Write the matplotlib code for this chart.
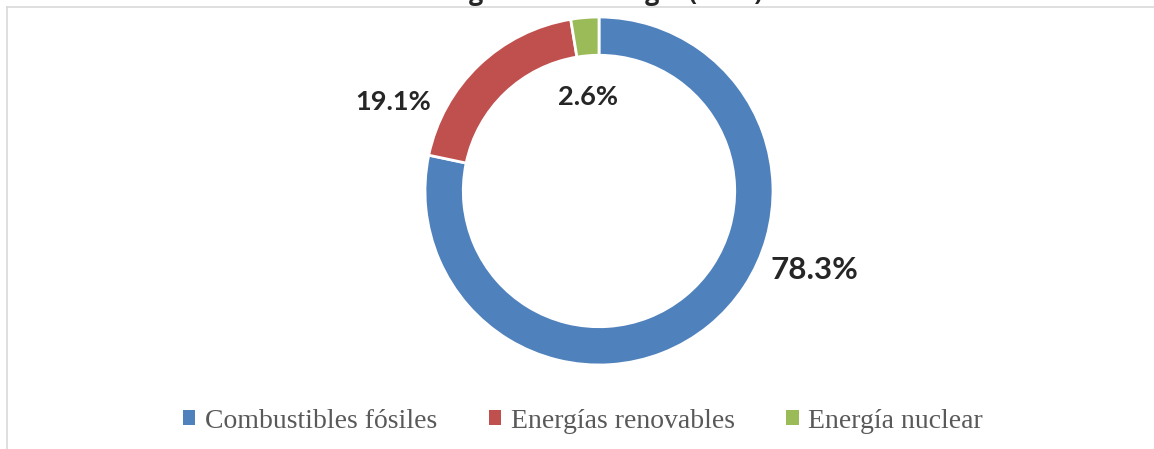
import matplotlib
matplotlib.use("Agg")
import matplotlib.pyplot as plt
from matplotlib.patches import Patch
from matplotlib.lines import Line2D

categories = ["Combustibles fósiles", "Energías renovables", "Energía nuclear"]
values = [78.3, 19.1, 2.6]
labels = ["78.3%", "19.1%", "2.6%"]
colors = ["#4F81BD", "#C0504D", "#9BBB59"]
title = "Origen de la energía (2019)"

W, H = 1154, 449
fig = plt.figure(figsize=(W / 100, H / 100), dpi=100)

cx, cy, R = 599, 191, 174
ax = fig.add_axes([(cx - R) / W, (H - cy - R) / H, 2 * R / W, 2 * R / H])
ax.pie(values, colors=colors, startangle=90, counterclock=False, radius=1,
       wedgeprops=dict(width=0.22, edgecolor="white", linewidth=2))
ax.set_xlim(-1, 1)
ax.set_ylim(-1, 1)
ax.set_aspect("equal")
ax.axis("off")

label_pos = [(1.241, -0.453, 22.5), (-1.184, 0.511, 19.5), (-0.063, 0.54, 19.5)]
for lab, (x, y, fs) in zip(labels, label_pos):
    ax.text(x, y, lab, ha="center", va="center", fontsize=fs, fontweight="bold",
            color="#262626", family="Lato", clip_on=False)

# border
fig.add_artist(Line2D([7 / W, 1], [1 - 7 / H, 1 - 7 / H], color="#d9d9d9", lw=1.2, transform=fig.transFigure))
fig.add_artist(Line2D([7 / W, 7 / W], [0, 1 - 7 / H], color="#d9d9d9", lw=1.2, transform=fig.transFigure))

# title (clipped at the top edge, as in the reference)
fig.text(0.517, 1.0, title, ha="center", va="baseline", fontsize=18, fontweight="bold",
         color="#262626", family="Open Sans")

handles = [Patch(facecolor=c, edgecolor="none") for c in colors]
fig.legend(handles, categories, loc="center", bbox_to_anchor=(583 / W, 1 - 421 / H), ncol=3,
           frameon=False, prop=dict(family="Liberation Serif", size=20),
           labelcolor="#595959", handlelength=0.45, handleheight=0.45,
           handletextpad=0.35, columnspacing=1.85)

fig.savefig("out.png", dpi=100, facecolor="white")
